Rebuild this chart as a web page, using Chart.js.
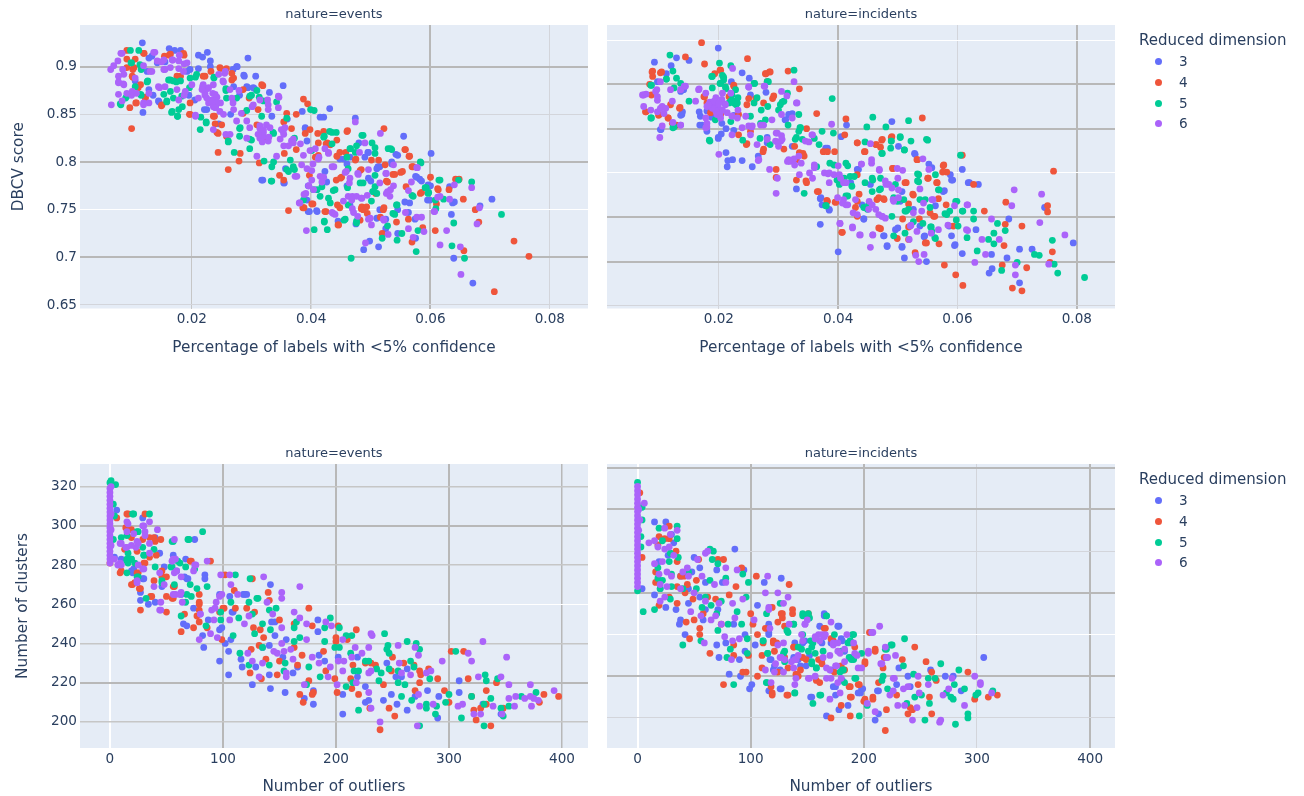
<!DOCTYPE html>
<html>
<head>
<meta charset="utf-8">
<title>DBCV and clusters</title>
<script src="https://cdn.jsdelivr.net/npm/chart.js@4"></script>
<style>
  body { margin: 0; background: #fff; width: 1304px; height: 796px; overflow: hidden; position: relative; font-family: "DejaVu Sans", sans-serif; color: #2a3f5f; }
  canvas { position: absolute; }
  .legend { position: absolute; left: 1139px; }
  .legend .head { font-size: 15px; line-height: 21px; }
  .legend .row { position: relative; height: 20.8px; line-height: 20.8px; font-size: 13.6px; padding-left: 40px; }
  .legend .dot { position: absolute; left: 15.5px; top: 7px; width: 7px; height: 7px; border-radius: 50%; }
</style>
</head>
<body>
<canvas id="events-pct" width="600" height="370" style="left:0;top:0"></canvas>
<canvas id="incidents-pct" width="704" height="370" style="left:600px;top:0"></canvas>
<canvas id="events-out" width="600" height="357" style="left:0;top:439px"></canvas>
<canvas id="incidents-out" width="704" height="357" style="left:600px;top:439px"></canvas>
<div class="legend" id="legend-top" style="top:30px"></div>
<div class="legend" id="legend-bottom" style="top:469px"></div>
<script>
// legend
const dimensions = ['3', '4', '5', '6'];
const dimColors = ['#636efa', '#EF553B', '#00cc96', '#ab63fa'];

// tick labels
const pctTicks = [0.02, 0.04, 0.06, 0.08];
const dbcvTicks = [0.65, 0.7, 0.75, 0.8, 0.85, 0.9];
const dbcvTicksRight = [0.6, 0.65, 0.7, 0.75, 0.8, 0.85, 0.9];
const outlierTicks = [0, 100, 200, 300, 400];
const clusterTicks = [200, 220, 240, 260, 280, 300, 320];

// events: [pct of labels <5% confidence, DBCV]
const eventsPct3 = [[.0117,.925],[.0162,.919],[.0171,.917],[.0181,.917],[.0211,.912],[.0218,.91],[.0226,.915],[.0231,.906],[.0294,.909],[.0276,.9],[.0211,.898],[.0288,.89],[.0307,.89],[.0294,.878],[.0305,.877],[.033,.873],[.0353,.88],[.0431,.856],[.0421,.847],[.0474,.846],[.0555,.827],[.0601,.809],[.0703,.761],[.0671,.673],[.0639,.699],[.0488,.708],[.0513,.711],[.0317,.781],[.0354,.778],[.0118,.852],[.0145,.863],[.0135,.87],[.0105,.885],[.0125,.895],[.0155,.905],[.0195,.87],[.0205,.865],[.0225,.855],[.0245,.84],[.0265,.85],[.028,.87],[.036,.845],[.0385,.853],[.039,.835],[.041,.805],[.0395,.775],[.041,.748],[.0395,.748],[.0423,.79],[.0445,.738],[.046,.775],[.0465,.805],[.048,.82],[.0495,.81],[.05,.78],[.0515,.75],[.0515,.795],[.0535,.8],[.0545,.807],[.0545,.75],[.0525,.74],[.0565,.757],[.0575,.785],[.0585,.78],[.06,.775],[.0595,.76],[.0637,.757],[.0635,.745],[.0632,.774],[.0683,.754],[.0575,.72],[.0545,.725],[.0525,.73],[.0498,.717],[.0475,.735],[.0465,.755],
    [.0231,.9],[.0275,.9],[.0269,.897],[.0287,.891],[.0292,.879],[.0303,.878],[.027,.879],[.0128,.876],[.0144,.864],[.0221,.855],[.0197,.897],[.0192,.895],[.0334,.848],[.0133,.911],[.0128,.909],[.0142,.904],
    [.0454,.803],[.046,.798],[.049,.805],[.0496,.81],[.0448,.803],[.0426,.779],[.0355,.778],[.0319,.781],[.0535,.798],[.0512,.795],[.051,.793],[.0496,.783],[.0542,.808],[.0582,.782],[.0577,.784],[.0596,.776],[.0599,.76],[.0557,.758],[.0397,.748],[.0409,.749],[.064,.758],[.051,.741],[.0574,.74],[.0563,.747],[.0393,.76],[.039,.836],[.0393,.822],[.0415,.847],[.037,.793],[.0357,.793]];
const eventsPct4 = [[.0099,.835],[.0096,.857],[.0091,.917],[.012,.914],[.0162,.912],[.0187,.912],[.0258,.898],[.0267,.893],[.0319,.88],[.0387,.866],[.0394,.861],[.0375,.85],[.0522,.835],[.0461,.833],[.0557,.813],[.0564,.806],[.0569,.795],[.06,.784],[.0642,.782],[.0648,.782],[.0612,.772],[.0583,.767],[.0655,.761],[.0675,.75],[.0681,.737],[.0608,.728],[.0587,.731],[.074,.717],[.0765,.701],[.0707,.664],[.0656,.707],[.0569,.716],[.0519,.725],[.0543,.737],[.0445,.734],[.0423,.748],[.0403,.756],[.0388,.752],[.0362,.749],[.0354,.781],[.0347,.786],[.0313,.799],[.0279,.801],[.0261,.792],[.0281,.809],[.0244,.81],[.0244,.83],[.0238,.848],[.0197,.85],[.0149,.859],[.0106,.862],[.0101,.897],[.0101,.889],[.011,.878],[.0122,.868],[.0181,.89],[.0219,.89],[.0232,.895],[.0248,.898],[.0267,.886],[.0296,.867],[.0319,.823],[.0354,.842],[.0367,.835],[.0411,.83],[.0427,.82],[.0443,.806],[.0458,.81],[.0475,.803],[.0484,.792],[.0449,.783],[.0508,.767],[.0526,.78],[.0537,.787],[.055,.789],[.0484,.751],[.0494,.746],[.0516,.742],[.0521,.75],
    [.0091,.908],[.0105,.908],[.0119,.914],[.0154,.911],[.0164,.913],[.0186,.914],[.0091,.899],[.0103,.899],[.01,.89],[.0114,.881],[.0122,.867],[.0107,.862],[.0175,.89],[.015,.86],[.0222,.89],[.0247,.899],[.027,.888],[.0197,.862],[.0196,.85],[.0236,.848],[.0239,.84],[.025,.839],[.0242,.831],[.0258,.827],[.0286,.876],[.0317,.881],[.0311,.855],[.0286,.851],[.0359,.851],[.0309,.839],
    [.046,.832],[.039,.83],[.0398,.834],[.0421,.832],[.0443,.823],[.0425,.819],[.0432,.818],[.0412,.82],[.0375,.813],[.0355,.809],[.0412,.807],[.0407,.805],[.0448,.81],[.0474,.802],[.0501,.802],[.0513,.802],[.0524,.797],[.0482,.791],[.054,.787],[.0553,.79],[.0571,.795],[.0451,.784],[.0442,.781],[.0397,.786],[.0528,.779],[.0558,.813],[.0565,.806],[.0559,.774],[.0585,.768],[.0613,.771],[.0631,.771],[.061,.756],[.0386,.752],[.0401,.756],[.0425,.748],[.0444,.755],[.0448,.752],[.0485,.753],[.0487,.75],[.0493,.753],[.0522,.752],[.0563,.74],[.0446,.734],[.0482,.739]];
const eventsPct5 = [[.0097,.917],[.0111,.917],[.0081,.86],[.0166,.852],[.0176,.848],[.0214,.834],[.0224,.841],[.0261,.821],[.0271,.81],[.0297,.814],[.0321,.801],[.0333,.78],[.0359,.792],[.0372,.792],[.0405,.729],[.0427,.729],[.0422,.737],[.0455,.739],[.0476,.736],[.0467,.699],[.0519,.72],[.0544,.718],[.0576,.706],[.0579,.728],[.0552,.725],[.0528,.733],[.0636,.712],[.0657,.699],[.0639,.736],[.0609,.751],[.0622,.761],[.0569,.765],[.0597,.768],[.0614,.781],[.0647,.781],[.0669,.779],[.0719,.745],[.0583,.8],[.0591,.773],[.0533,.814],[.0502,.82],[.0487,.828],[.0466,.814],[.0442,.831],[.0431,.832],[.0422,.827],[.0399,.855],[.0405,.854],[.0342,.863],[.03,.87],[.0313,.868],[.0257,.875],[.0237,.888],[.0206,.889],[.0174,.884],[.0161,.886],[.0125,.884],[.0115,.897],[.0099,.904],[.0115,.87],[.0089,.867],[.0158,.863],[.0184,.858],[.028,.835],[.03,.823],[.0337,.83],[.0372,.825],[.0487,.778],[.0503,.769],[.0537,.746],[.0544,.755],[.0437,.77],[.041,.771],[.0387,.76],
    [.0098,.904],[.0113,.902],[.0126,.885],[.0105,.879],[.0091,.869],[.0114,.871],[.008,.861],[.0164,.886],[.0169,.885],[.0181,.885],[.0197,.888],[.0208,.892],[.0237,.889],[.0196,.878],[.0153,.871],[.0164,.874],[.0158,.864],[.0169,.867],[.0167,.853],[.0178,.855],[.0176,.848],[.0183,.869],[.0215,.847],[.0224,.842],[.0257,.877],[.0258,.867],[.0275,.867],[.0297,.869],[.0309,.875],[.032,.864],[.0359,.846],[.0317,.848],[.0281,.836],[.028,.827],[.0297,.824],[.0336,.831],[.0261,.822],[.0292,.854],
    [.0435,.831],[.0485,.828],[.0507,.815],[.0507,.809],[.0476,.817],[.0465,.814],[.0529,.814],[.0535,.813],[.0584,.799],[.046,.805],[.0474,.81],[.0435,.819],[.0421,.826],[.0401,.812],[.0365,.802],[.037,.795],[.0362,.79],[.0334,.795],[.0334,.78],[.0337,.8],[.0462,.793],[.044,.771],[.0461,.773],[.0507,.774],[.0504,.769],[.0507,.786],[.0482,.778],[.0418,.774],[.0404,.771],[.0415,.764],[.0429,.762],[.0432,.757],[.0462,.755],[.0501,.759],[.051,.767],[.0543,.755],[.054,.745],[.0571,.764],[.0593,.773],[.0596,.767],[.0616,.781],[.0608,.76],[.0422,.738],[.0457,.74],[.0476,.738]];
const eventsPct6 = [[.0064,.897],[.0069,.901],[.0083,.914],[.0065,.86],[.0138,.915],[.0179,.912],[.0474,.842],[.0516,.83],[.0578,.794],[.0669,.773],[.0682,.752],[.0678,.735],[.0651,.682],[.065,.711],[.0616,.713],[.0627,.728],[.0589,.727],[.0577,.742],[.0558,.747],[.0571,.721],[.0563,.73],[.0529,.724],[.0501,.734],[.0491,.715],[.0392,.728],[.0496,.74],[.0437,.746],[.038,.757],[.0391,.767],[.0396,.775],[.0376,.785],[.0342,.806],[.0309,.806],[.0257,.829],[.0236,.834],[.0206,.848],[.0084,.897],[.0077,.884],[.0085,.882],[.0099,.87],[.0119,.862],[.0107,.872],[.0133,.895],[.0149,.905],[.0155,.897],[.0168,.907],[.0187,.903],[.0178,.898],[.0146,.878],[.0155,.879],[.0187,.87],[.0178,.865],[.0218,.879],[.0227,.877],[.0234,.865],[.024,.858],[.0253,.884],[.0255,.893],[.0269,.862],[.0279,.875],[.0283,.851],[.0301,.858],[.0314,.835],[.032,.827],[.0327,.865],[.0346,.868],[.0353,.832],[.0367,.822],[.0387,.807],[.0403,.798],[.0413,.805],[.0429,.81],[.0438,.795],[.0415,.785],[.0459,.79],[.0481,.81],[.049,.82],[.0478,.788],[.0469,.764],[.0484,.762],[.0469,.751],[.0478,.743],[.0522,.739],[.0528,.769],[.0538,.797],[.0525,.788],[.0612,.763],[.064,.776],[.0606,.748],[.0235,.872],[.0228,.862],[.0242,.868],[.0222,.87],[.0248,.862],
    [.0076,.906],[.0081,.914],[.0136,.915],[.0086,.892],[.0077,.89],[.0077,.883],[.0086,.881],[.0077,.871],[.0091,.872],[.01,.874],[.0105,.888],[.0128,.862],[.0119,.86],[.0083,.864],[.0119,.901],[.013,.895],[.0142,.906],[.0153,.907],[.0167,.907],[.0178,.906],[.0192,.904],[.0153,.897],[.0164,.899],[.0186,.895],[.0144,.879],[.0128,.872],[.0175,.876],[.0189,.874],[.02,.881],[.0219,.881],[.0228,.878],[.0236,.881],[.0222,.872],[.0217,.876],[.0239,.871],[.0233,.864],[.0242,.862],[.0236,.858],[.0239,.857],[.0211,.867],[.0225,.867],[.0247,.853],[.0253,.85],[.0206,.849],[.0256,.895],[.0245,.892],[.0252,.885],[.0264,.876],[.0267,.867],[.027,.855],[.0275,.843],[.0292,.843],[.0303,.86],[.0314,.865],[.0328,.86],[.0328,.855],[.0345,.869],[.0345,.857],[.0314,.838],[.0325,.839],[.0331,.836],[.032,.831],[.0311,.829],[.0297,.836],[.035,.834],[.0356,.836],[.0348,.824],[.0264,.829],[.0292,.825],[.0314,.825],[.0328,.822],
    [.0398,.812],[.0407,.814],[.0423,.814],[.0429,.809],[.0412,.803],[.0384,.797],[.0393,.793],[.0401,.791],[.0373,.785],[.0401,.781],[.0421,.784],[.0418,.779],[.0396,.775],[.0404,.771],[.0435,.795],[.0457,.789],[.0465,.783],[.0479,.787],[.0496,.792],[.0526,.788],[.0464,.778],[.0515,.778],[.0538,.775],[.0533,.771],[.0526,.767],[.0532,.764],[.0568,.779],[.0563,.77],[.0577,.794],[.0616,.764],[.0632,.761],[.0607,.748],[.0388,.766],[.0381,.757],[.0454,.759],[.0462,.764],[.0476,.764],[.0485,.762],[.0468,.76],[.0494,.765],[.0471,.747],[.0435,.747],[.044,.745],[.0499,.741],[.0521,.74],[.0585,.742],[.037,.824],[.0354,.829],[.0354,.817],[.0362,.817],[.037,.82],[.0382,.819],[.032,.834],[.0329,.826],[.0318,.821]];

// incidents: [pct of labels <5% confidence, DBCV]
const incidentsPct3 = [[.0199,.891],[.0092,.875],[.012,.871],[.0129,.88],[.015,.877],[.0239,.863],[.0251,.857],[.0221,.853],[.0253,.838],[.0279,.841],[.0112,.862],[.0097,.853],[.0138,.816],[.0103,.799],[.0168,.804],[.0199,.789],[.0212,.773],[.0215,.764],[.0214,.757],[.0223,.765],[.0239,.764],[.0256,.757],[.0266,.769],[.0281,.784],[.0323,.817],[.0311,.81],[.0414,.804],[.0405,.791],[.049,.808],[.0501,.78],[.0529,.771],[.0552,.76],[.0588,.748],[.0608,.754],[.0592,.742],[.062,.739],[.0635,.737],[.0578,.73],[.033,.732],[.037,.721],[.0373,.714],[.0385,.708],[.037,.692],[.04,.661],[.0482,.667],[.0507,.666],[.0511,.654],[.0548,.65],[.0544,.678],[.0595,.668],[.0608,.659],[.0631,.686],[.0657,.658],[.0683,.654],[.0704,.664],[.0725,.664],[.0794,.671],[.0653,.637],[.0658,.642],[.0704,.626],[.0686,.698],[.0746,.711],[.0477,.679],[.0443,.698],[.0526,.709],[.0563,.713],[.0586,.69],[.0379,.778],[.0323,.78],[.0432,.754],[.018,.82],[.0188,.813],[.0205,.806],[.0225,.815],
    [.0167,.819],[.0169,.814],[.0172,.804],[.018,.797],[.0204,.794],[.0199,.79],[.0212,.8],[.0225,.798],[.0281,.79],[.0312,.81],[.0317,.816],[.0102,.799],[.0139,.819],[.0136,.815],[.0141,.844],[.0136,.842],
    [.0382,.778],[.0528,.772],[.0557,.756],[.059,.742],[.0618,.739],[.0576,.729],[.0434,.754],[.0421,.739],[.0454,.737],[.0507,.729],[.044,.714],[.0371,.722],[.0385,.709],[.0443,.698],[.0496,.686],[.05,.688],[.0476,.679],[.0482,.668],[.0507,.667],[.0545,.679],[.059,.679],[.0596,.669],[.0537,.69],[.0504,.718]];
const incidentsPct4 = [[.0171,.897],[.0144,.881],[.0176,.873],[.0248,.879],[.0089,.865],[.0089,.859],[.0104,.864],[.0084,.85],[.0077,.819],[.0099,.815],[.0115,.812],[.0129,.804],[.0135,.824],[.0193,.862],[.0202,.866],[.0279,.862],[.0285,.864],[.0316,.865],[.0335,.845],[.0176,.836],[.0225,.848],[.0262,.834],[.029,.834],[.0364,.817],[.0413,.811],[.0541,.812],[.0347,.8],[.0411,.793],[.0432,.784],[.0464,.782],[.0473,.787],[.0489,.79],[.0444,.774],[.0608,.77],[.0533,.765],[.0577,.759],[.0761,.752],[.0582,.751],[.0492,.755],[.0551,.744],[.0566,.739],[.0514,.739],[.0627,.737],[.0347,.739],[.0296,.745],[.0365,.729],[.0381,.719],[.0395,.717],[.0526,.725],[.0568,.721],[.0681,.717],[.0751,.713],[.0751,.706],[.0645,.707],[.0471,.687],[.0406,.683],[.0508,.698],[.056,.701],[.0708,.69],[.068,.692],[.0593,.69],[.0678,.668],[.0759,.661],[.0578,.646],[.0597,.635],[.0609,.623],[.0692,.62],[.0708,.617],[.0716,.643],[.0675,.646],[.0755,.649],[.0529,.66],[.0518,.689],[.0499,.676],[.0548,.671],[.0569,.67],[.0247,.783],[.0274,.774],[.0296,.754],[.033,.765],[.0341,.772],[.0375,.774],[.0394,.774],[.0432,.718],[.0465,.72],[.0477,.72],
    [.0088,.864],[.0102,.863],[.0087,.838],[.0078,.819],[.01,.816],[.0115,.812],[.0122,.806],[.0119,.827],[.0134,.823],[.0175,.836],[.018,.829],[.0186,.818],[.0203,.866],[.0225,.849],[.0286,.864],[.0278,.862],[.0281,.853],[.0292,.837],[.0247,.827],[.0275,.829],[.0253,.797],[.0233,.793],[.0246,.782],[.0275,.777],[.0309,.777],[.0217,.836],[.025,.834],[.0197,.821],[.0203,.816],[.0233,.816],
    [.0432,.784],[.0463,.782],[.0471,.779],[.0474,.788],[.049,.791],[.0445,.774],[.0382,.774],[.0327,.78],[.0335,.773],[.0343,.769],[.0346,.741],[.033,.742],[.0367,.729],[.0382,.718],[.0396,.717],[.0435,.726],[.0468,.722],[.0476,.721],[.0432,.748],[.0429,.711],[.0432,.701],[.0468,.688],[.0525,.726],[.0518,.715],[.0581,.714],[.0532,.765],[.0491,.755],[.0512,.739],[.055,.744],[.0565,.739],[.0576,.758],[.0575,.751],[.0554,.705],[.0562,.701],[.0536,.698],[.0546,.671],[.0407,.683],[.0518,.675]];
const incidentsPct5 = [[.0118,.883],[.0123,.865],[.0112,.856],[.0129,.857],[.0086,.849],[.0086,.812],[.0123,.801],[.0201,.874],[.022,.871],[.0189,.859],[.0208,.858],[.0202,.851],[.0229,.827],[.0217,.829],[.0225,.831],[.0185,.786],[.024,.787],[.0259,.851],[.0281,.853],[.0326,.866],[.039,.834],[.0458,.813],[.0448,.802],[.048,.802],[.0518,.809],[.0392,.795],[.0373,.797],[.0336,.801],[.033,.79],[.036,.789],[.0368,.782],[.0489,.786],[.0504,.79],[.0522,.786],[.055,.787],[.0473,.772],[.0511,.776],[.0605,.77],[.0413,.761],[.0386,.761],[.0364,.757],[.0533,.749],[.0535,.74],[.0568,.731],[.042,.746],[.0398,.742],[.0458,.742],[.0469,.731],[.0343,.727],[.0379,.713],[.0413,.724],[.0451,.714],[.0495,.72],[.0537,.72],[.0599,.718],[.0609,.707],[.0627,.707],[.0627,.698],[.0514,.707],[.0582,.703],[.0556,.689],[.0601,.69],[.0542,.693],[.0667,.693],[.068,.685],[.0661,.682],[.0616,.677],[.0563,.676],[.0652,.675],[.0633,.662],[.0661,.67],[.0759,.674],[.0729,.658],[.0737,.657],[.0762,.647],[.0768,.637],[.0813,.632],[.07,.649],[.0674,.64],[.0212,.845],[.0222,.838],[.0232,.835],[.0282,.825],[.0306,.83],[.0315,.84],
    [.0087,.849],[.0112,.856],[.0136,.851],[.0125,.846],[.0087,.812],[.015,.831],[.0125,.802],[.0188,.859],[.0206,.86],[.0208,.855],[.0211,.847],[.0203,.851],[.0189,.846],[.0228,.844],[.0225,.829],[.0231,.829],[.022,.831],[.026,.851],[.0283,.853],[.0309,.831],[.0303,.827],[.03,.821],[.0278,.81],[.027,.806],[.0264,.835],[.0259,.829],[.0253,.814],[.0271,.821],[.0184,.787],[.0269,.789],[.0316,.804],[.0334,.816],[.0337,.801],[.0334,.797],[.0328,.788],[.034,.788],[.0286,.782],[.022,.808],[.0194,.81],
    [.0445,.785],[.0489,.786],[.0504,.791],[.0548,.788],[.0511,.776],[.0474,.772],[.0488,.778],[.0393,.759],[.0416,.758],[.0427,.746],[.041,.744],[.0423,.735],[.0416,.724],[.0402,.737],[.0445,.739],[.0457,.744],[.0471,.744],[.0496,.737],[.0471,.732],[.0457,.729],[.0535,.748],[.0533,.741],[.0563,.748],[.0569,.731],[.038,.713],[.0443,.711],[.0449,.709],[.0493,.722],[.0499,.718],[.051,.72],[.0518,.709],[.0512,.707],[.049,.701],[.0546,.72],[.0554,.711],[.0579,.704],[.0587,.707],[.0597,.718],[.0608,.707],[.0598,.697],[.0526,.695],[.0555,.689],[.0557,.684],[.0562,.677],[.0512,.682],[.0493,.679]];
const incidentsPct6 = [[.0074,.838],[.0074,.825],[.0086,.821],[.0096,.844],[.0105,.825],[.0097,.832],[.0108,.817],[.0105,.803],[.0101,.79],[.0123,.807],[.0136,.804],[.0142,.848],[.0166,.844],[.0161,.831],[.018,.825],[.0191,.829],[.0199,.825],[.0202,.817],[.018,.802],[.0223,.868],[.025,.847],[.0276,.848],[.0326,.853],[.0305,.842],[.033,.829],[.0232,.821],[.0255,.802],[.027,.804],[.0296,.795],[.0304,.786],[.02,.771],[.0266,.764],[.0285,.754],[.0298,.744],[.0296,.727],[.0389,.805],[.0357,.793],[.0315,.763],[.0338,.761],[.036,.759],[.0383,.749],[.0409,.739],[.0454,.783],[.0456,.765],[.0439,.76],[.0469,.754],[.0499,.755],[.0542,.766],[.0552,.754],[.048,.737],[.0537,.732],[.0409,.72],[.0413,.714],[.0432,.703],[.0451,.709],[.0473,.701],[.0492,.72],[.0526,.705],[.0559,.72],[.0595,.713],[.0617,.714],[.0695,.731],[.0741,.726],[.0691,.713],[.0738,.694],[.0657,.698],[.0617,.685],[.0403,.693],[.0424,.688],[.0436,.68],[.0458,.68],[.0454,.666],[.0522,.691],[.0519,.675],[.0556,.682],[.0641,.675],[.067,.675],[.0647,.658],[.0629,.649],[.053,.657],[.0544,.658],[.0535,.65],[.0697,.635],[.0697,.646],[.0753,.647],[.078,.68],[.0185,.83],[.0195,.835],[.0205,.833],[.0195,.82],[.021,.828],[.0298,.785],[.0305,.792],
    [.0072,.838],[.0078,.839],[.0097,.819],[.0102,.823],[.0111,.823],[.0122,.831],[.0097,.836],[.0094,.842],[.0102,.853],[.0119,.844],[.0136,.844],[.0144,.848],[.0167,.845],[.0178,.84],[.0192,.831],[.02,.829],[.0206,.821],[.0189,.823],[.0183,.827],[.0211,.827],[.0206,.84],[.022,.84],[.0197,.816],[.0203,.812],[.0214,.818],[.0222,.814],[.0231,.812],[.0178,.812],[.018,.806],[.0178,.801],[.0245,.814],[.025,.803],[.0239,.801],[.0256,.803],[.0253,.793],[.0264,.782],[.0222,.793],[.0275,.804],[.0289,.81],[.0314,.837],[.0305,.816],[.0331,.829],[.0323,.812],[.0298,.795],[.0306,.788],[.0295,.786],[.0281,.788],[.03,.78],[.0326,.766],[.0334,.769],[.0317,.765],[.0345,.786],[.0356,.793],[.0351,.785],[.0267,.765],[.0136,.804],[.025,.847],[.0277,.848],
    [.0319,.763],[.0327,.759],[.0335,.748],[.0352,.75],[.036,.756],[.0357,.744],[.0377,.75],[.0385,.75],[.0393,.748],[.0385,.739],[.0402,.748],[.04,.758],[.0404,.744],[.0413,.739],[.0399,.722],[.0407,.716],[.0416,.714],[.0429,.72],[.0425,.705],[.0439,.76],[.0456,.761],[.0469,.753],[.0508,.753],[.05,.744],[.0479,.741],[.0485,.737],[.049,.733],[.0501,.731],[.0452,.718],[.0457,.714],[.0463,.709],[.0468,.703],[.0474,.701],[.0479,.699],[.0493,.718],[.0501,.722],[.0543,.716],[.0557,.72],[.054,.707],[.0616,.714],[.0568,.686],[.0584,.691],[.0615,.686],[.0521,.69],[.0532,.684],[.0403,.693],[.0424,.689],[.0437,.68],[.0458,.68]];

// events: [outliers, clusters]
const eventsOut3 = [[29,304],[6,308],[4,284],[18,283],[19,277],[29,273],[27,262],[34,260],[40,261],[48,279],[56,285],[67,283],[75,293],[68,273],[84,275],[84,273],[74,258],[65,250],[68,249],[82,244],[83,238],[87,252],[97,247],[99,248],[102,240],[105,236],[97,231],[105,224],[107,242],[108,256],[106,264],[119,265],[117,228],[116,232],[126,219],[129,228],[135,238],[141,224],[141,239],[142,270],[143,251],[146,251],[146,244],[142,217],[155,215],[153,233],[156,242],[162,225],[166,228],[172,212],[180,216],[180,209],[184,246],[184,252],[185,234],[190,231],[202,233],[206,214],[206,204],[219,233],[219,223],[226,218],[226,210],[229,211],[242,211],[245,230],[249,214],[254,209],[253,223],[258,223],[263,227],[263,206],[270,213],[281,216],[290,202],[291,213],[309,221],[309,215],[330,209],[346,204],
    [10,283],[21,278],[20,276],[27,266],[44,286],[40,294],[30,273],[46,269],[59,277],[66,274],[69,273],[97,265],[118,265],[121,265],[109,256],[63,265]];
const eventsOut4 = [[0,281],[1,305],[6,304],[16,306],[31,306],[14,299],[19,298],[19,294],[29,293],[39,294],[45,293],[35,284],[41,285],[13,288],[24,287],[30,281],[9,276],[19,270],[22,271],[26,268],[24,276],[39,272],[46,274],[50,274],[36,264],[50,264],[55,263],[27,257],[50,256],[57,269],[63,246],[66,255],[74,248],[77,254],[79,251],[79,265],[79,261],[71,282],[89,282],[86,248],[99,242],[97,256],[102,275],[101,258],[110,267],[111,258],[121,258],[126,273],[128,256],[127,248],[133,247],[125,237],[124,225],[132,239],[134,222],[136,243],[140,266],[141,262],[138,232],[150,231],[148,224],[150,252],[163,250],[163,238],[166,229],[170,234],[168,214],[171,210],[176,258],[176,221],[180,215],[179,214],[179,249],[189,236],[191,226],[202,249],[200,243],[200,241],[199,222],[201,215],[210,242],[218,247],[213,222],[214,217],[215,229],[220,214],[226,230],[231,230],[235,229],[230,207],[242,219],[239,196],[247,207],[250,233],[249,226],[252,203],[260,230],[269,229],[270,216],[274,226],[275,224],[274,220],[282,227],[290,222],[296,216],[300,210],[302,236],[313,236],[317,222],[320,213],[322,206],[324,201],[328,207],[333,209],[333,216],[337,198],[342,220],[380,210],[384,214],[397,213],[348,207],
    [15,306],[35,294],[40,292],[31,281],[25,276],[10,277],[20,270],[27,268],[47,274],[46,277],[37,264],[56,263],[56,269],[72,282],[79,257],[79,260],[100,258]];
const eventsOut5 = [[0,322],[1,323],[5,321],[3,311],[4,305],[3,293],[20,306],[35,306],[10,294],[15,295],[24,297],[29,289],[30,285],[39,288],[40,279],[15,276],[15,283],[19,283],[24,274],[32,263],[46,272],[55,292],[69,293],[82,297],[54,279],[62,281],[67,279],[75,278],[77,268],[86,269],[71,270],[68,265],[57,270],[63,254],[67,261],[85,249],[98,256],[98,252],[111,275],[107,261],[124,273],[123,261],[130,263],[114,253],[126,255],[128,245],[109,244],[115,235],[123,229],[135,250],[135,238],[141,229],[141,257],[147,258],[142,247],[154,226],[155,230],[163,248],[165,251],[168,243],[163,241],[176,228],[174,219],[186,223],[190,241],[190,248],[195,253],[203,248],[199,238],[203,238],[209,244],[214,244],[213,235],[215,220],[209,218],[216,226],[220,226],[220,206],[226,231],[229,231],[236,227],[238,221],[243,245],[246,239],[245,237],[247,235],[247,227],[240,225],[255,226],[255,220],[263,241],[271,240],[274,237],[266,231],[269,228],[261,219],[258,213],[267,211],[274,198],[280,209],[280,207],[283,222],[289,208],[288,204],[297,210],[300,214],[306,236],[311,202],[320,213],[331,198],[332,224],[333,221],[331,209],[337,212],[343,222],[346,207],[348,203],[353,208],[364,213],[377,215],
    [21,306],[70,293],[56,292],[25,297],[16,286],[30,285],[15,282],[19,283],[25,274],[55,279],[60,282],[46,271],[72,264],[131,263],[16,281],[22,281]];
const eventsOut6 = [[0,281],[0,283],[0,285],[0,287],[0,289],[0,291],[0,293],[0,295],[0,297],[0,299],[0,301],[0,303],[0,305],[0,307],[0,309],[0,311],[0,313],[0,315],[0,317],[0,319],[1,320],[1,306],[1,298],[1,290],[9,281],[4,283],[16,301],[29,300],[35,302],[42,298],[31,297],[57,293],[14,289],[23,289],[35,291],[9,291],[25,280],[29,278],[44,276],[39,269],[48,270],[45,261],[45,257],[55,282],[58,283],[57,276],[63,274],[74,277],[75,280],[86,282],[57,265],[63,266],[64,261],[24,272],[98,275],[106,275],[107,270],[136,274],[168,269],[152,266],[152,263],[113,265],[99,265],[94,261],[90,257],[80,255],[79,242],[89,245],[95,243],[92,252],[106,252],[119,250],[123,254],[139,261],[144,255],[152,248],[163,256],[168,253],[174,250],[191,251],[196,249],[148,235],[145,236],[152,240],[154,236],[160,237],[162,232],[126,231],[135,230],[132,223],[122,235],[156,225],[156,223],[172,219],[174,242],[179,233],[185,230],[195,228],[193,223],[201,219],[202,231],[206,226],[207,231],[206,242],[217,238],[214,233],[223,235],[229,238],[231,245],[232,244],[218,220],[229,225],[231,226],[229,215],[231,207],[239,200],[255,239],[256,230],[258,225],[266,224],[270,238],[273,234],[273,214],[272,198],[274,208],[280,225],[284,226],[286,209],[294,231],[308,208],[312,209],[317,235],[320,231],[322,204],[326,223],[328,204],[330,241],[339,208],[346,223],[347,204],[351,233],[353,212],[353,219],[358,208],[359,213],[367,212],[372,219],[372,213],[373,208],[375,212],[379,211],[393,216],
    [15,302],[30,300],[15,297],[21,296],[15,289],[19,290],[24,292],[25,291],[31,295],[10,291],[35,286],[30,278],[24,271],[56,283],[55,282],[59,277],[76,280],[58,265],[62,265],[97,264],[93,258],[44,257],[7,280],[10,280],[56,265],[80,255]];

// incidents: [outliers, clusters]
const incidentsOut3 = [[15,294],[25,294],[4,262],[86,281],[50,277],[55,272],[70,271],[94,271],[127,267],[15,259],[25,253],[34,252],[45,255],[48,270],[32,284],[19,275],[38,247],[37,245],[42,240],[72,229],[81,221],[91,220],[78,236],[95,232],[106,254],[104,235],[101,216],[99,214],[116,213],[127,214],[120,223],[118,228],[116,240],[116,245],[112,265],[71,252],[153,210],[178,204],[167,201],[186,206],[210,199],[213,202],[199,214],[197,212],[175,215],[175,211],[165,249],[161,244],[178,244],[148,237],[181,237],[144,225],[149,225],[171,223],[181,218],[231,224],[229,216],[259,223],[241,215],[239,220],[272,220],[279,220],[286,213],[306,229],[213,213],[138,228],
    [116,241],[165,250],[177,244],[180,238],[146,236],[139,236],[117,228],[121,225],[126,223],[138,229],[142,228],[152,230],[163,236],[171,236],[183,232],[188,229],[189,236],[198,214],[195,212],[212,213],[173,215],[154,210],[126,214],
    [30,288],[27,278],[38,268],[20,262],[45,262],[60,265],[55,258],[75,265],[60,252],[85,245],[70,235],[95,240],[90,228],[58,247]];
const incidentsOut4 = [[28,292],[19,287],[24,286],[4,277],[2,308],[34,280],[16,270],[16,265],[19,254],[35,275],[35,263],[35,255],[49,257],[41,268],[54,276],[71,276],[76,276],[92,272],[105,268],[134,264],[87,263],[81,259],[69,257],[100,250],[128,250],[128,248],[137,252],[151,250],[124,246],[50,247],[43,246],[55,243],[55,240],[46,238],[74,245],[64,231],[85,230],[85,235],[98,230],[106,240],[111,236],[120,237],[138,234],[130,229],[149,228],[163,228],[93,222],[96,222],[76,216],[106,220],[110,224],[124,222],[142,220],[118,215],[119,212],[133,211],[165,243],[173,237],[205,241],[192,234],[210,233],[245,234],[218,229],[234,228],[201,227],[255,227],[217,224],[260,222],[264,218],[292,222],[248,216],[187,215],[171,200],[188,201],[180,206],[188,210],[201,209],[208,210],[220,204],[219,194],[239,202],[241,205],[260,202],[258,210],[298,209],[310,210],[318,211],[183,223],[195,216],[229,211],[243,204],[102,245],
    [119,253],[137,250],[127,250],[130,244],[113,243],[166,243],[171,238],[210,232],[201,226],[138,234],[121,232],[120,236],[123,236],[110,230],[133,224],[144,223],[140,221],[146,229],[160,228],[163,226],[180,225],[174,222],[158,218],[161,217],[188,215],[196,216],[213,217],[119,211],[132,211],[189,210],[200,208],[208,209],
    [28,286],[18,283],[38,268],[44,264],[52,266],[28,258],[42,260],[62,258],[58,250]];
const incidentsOut5 = [[0,313],[4,301],[4,295],[3,287],[3,282],[0,261],[5,251],[15,252],[19,291],[35,292],[35,286],[29,279],[36,277],[18,272],[30,269],[22,266],[29,257],[64,281],[67,280],[66,276],[71,274],[93,269],[78,267],[98,265],[64,266],[60,258],[57,253],[65,254],[74,256],[96,258],[88,251],[114,250],[126,255],[146,249],[151,248],[167,249],[138,245],[132,242],[71,242],[92,245],[56,237],[40,235],[82,233],[97,238],[111,237],[115,231],[130,232],[146,240],[174,240],[190,240],[188,237],[153,237],[97,231],[79,229],[85,216],[114,217],[139,212],[155,207],[162,211],[142,234],[154,226],[158,224],[181,223],[187,229],[193,219],[198,231],[203,206],[196,201],[217,220],[225,235],[220,233],[236,238],[235,225],[244,221],[238,207],[245,210],[251,211],[257,219],[263,219],[258,207],[254,199],[268,226],[273,212],[277,210],[279,209],[280,216],[284,223],[281,197],[289,214],[292,202],[292,200],[299,211],[301,212],[314,213],
    [146,250],[151,250],[167,249],[138,245],[133,241],[152,248],[111,237],[115,231],[129,231],[130,227],[145,233],[151,232],[155,236],[154,234],[157,231],[164,232],[191,240],[180,232],[186,236],[188,237],[189,228],[191,228],[154,227],[158,224],[182,223],[179,222],[192,219],[183,217],[224,235],[219,233],[216,218],[221,214],[114,217],[139,212],[161,211],
    [22,285],[28,275],[18,267],[20,262],[30,263],[45,270],[40,262],[52,262],[70,250],[80,245]];
const incidentsOut6 = [[0,263],[0,265],[0,267],[0,269],[0,271],[0,273],[0,275],[0,277],[0,279],[0,281],[0,283],[0,285],[0,287],[0,289],[0,291],[0,293],[0,295],[0,297],[0,299],[0,301],[0,303],[0,305],[0,307],[0,309],[0,311],[1,300],[2,295],[1,290],[6,303],[10,284],[15,285],[18,282],[24,281],[28,282],[24,291],[29,288],[35,290],[15,274],[19,269],[26,270],[20,264],[26,263],[20,256],[24,258],[44,272],[53,276],[60,279],[62,280],[57,268],[68,264],[78,272],[88,271],[78,265],[47,251],[56,249],[65,247],[69,249],[74,245],[84,255],[93,257],[86,248],[59,236],[77,239],[84,237],[90,238],[83,228],[103,247],[115,268],[113,260],[124,260],[133,258],[116,252],[117,243],[134,245],[148,245],[150,247],[171,246],[214,244],[208,241],[157,239],[161,237],[173,235],[192,231],[204,231],[126,229],[140,228],[122,226],[113,223],[138,224],[140,219],[151,219],[157,220],[167,219],[175,225],[183,227],[195,224],[221,229],[228,230],[215,226],[227,219],[118,217],[170,209],[203,207],[210,203],[223,211],[226,213],[230,206],[235,214],[236,206],[239,215],[247,205],[243,199],[248,220],[249,212],[257,216],[267,198],[268,199],[270,211],[275,214],[278,219],[289,206],[298,220],[303,217],[303,216],[313,212],[165,239],[177,232],
    [129,255],[116,253],[148,245],[207,241],[204,232],[219,234],[220,229],[216,226],[160,240],[163,240],[166,240],[157,238],[185,240],[173,236],[177,236],[146,237],[145,240],[129,236],[124,235],[127,229],[130,228],[121,222],[129,222],[136,227],[139,228],[142,230],[164,229],[170,230],[179,231],[183,233],[191,236],[194,230],[198,224],[176,225],[170,223],[167,224],[152,219],[171,219],[180,219],[177,217],[139,216],[179,212],[226,219],
    [32,278],[40,270],[45,268],[22,275],[30,268],[38,262],[50,260],[60,256],[72,255]];

const thick = '#b8b8b8', mid = '#c6c6c6', light = '#d3d5db', white = '#ffffff';

// fills the plot area, plotly style
const plotBg = {
    id: 'plotBg',
    beforeDraw(chart) {
        const a = chart.chartArea;
        chart.ctx.save();
        chart.ctx.fillStyle = '#E5ECF6';
        chart.ctx.fillRect(a.left, a.top, a.right - a.left, a.bottom - a.top);
        chart.ctx.restore();
    }
};

function toPoints(rows) {
    return rows.map(r => ({ x: r[0], y: r[1] }));
}

function makePanel(id, rows, o) {
    const fontFamily = '"DejaVu Sans", sans-serif';
    new Chart(document.getElementById(id), {
        type: 'scatter',
        data: {
            datasets: rows.map((r, i) => ({
                label: dimensions[i],
                data: toPoints(r),
                backgroundColor: dimColors[i],
                borderWidth: 0,
                pointRadius: 3.4,
                order: rows.length - i
            }))
        },
        plugins: [plotBg],
        options: {
            responsive: false,
            animation: false,
            layout: { padding: { left: 0, right: o.right, top: 0, bottom: 0 } },
            plugins: {
                legend: { display: false },
                tooltip: { enabled: false },
                title: {
                    display: true,
                    text: o.title,
                    fullSize: false,
                    color: '#2a3f5f',
                    font: { family: fontFamily, size: 13, weight: 'normal' },
                    padding: { top: 7.2, bottom: 2.2 }
                }
            },
            scales: {
                x: {
                    type: 'linear',
                    min: o.xMin,
                    max: o.xMax,
                    afterBuildTicks: s => { s.ticks = o.xTicks.map(v => ({ value: v })); },
                    afterFit: s => { s.height = o.xHeight; },
                    border: { display: false },
                    grid: { color: o.xGrid.map(g => g[0]), lineWidth: o.xGrid.map(g => g[1]), drawTicks: false },
                    ticks: {
                        color: '#2a3f5f', padding: 3, maxRotation: 0, autoSkip: false,
                        font: { family: fontFamily, size: 13.6 },
                        callback: v => String(v)
                    },
                    title: {
                        display: true, text: o.xTitle, color: '#2a3f5f',
                        font: { family: fontFamily, size: 15.3 },
                        padding: { top: 0, bottom: o.xTitlePad }
                    }
                },
                y: {
                    type: 'linear',
                    min: o.yMin,
                    max: o.yMax,
                    afterBuildTicks: s => { s.ticks = o.yTicks.map(v => ({ value: v })); },
                    afterFit: s => { s.width = o.yWidth; },
                    border: { display: false },
                    grid: { color: o.yGrid.map(g => g[0]), lineWidth: o.yGrid.map(g => g[1]), drawTicks: false },
                    ticks: {
                        display: !!o.yTitle, color: '#2a3f5f', padding: 3, autoSkip: false,
                        font: { family: fontFamily, size: 13.6 },
                        callback: v => String(v)
                    },
                    title: {
                        display: !!o.yTitle, text: o.yTitle, color: '#2a3f5f',
                        font: { family: fontFamily, size: 15.3 },
                        padding: { top: o.yTitlePad, bottom: 0 }
                    }
                }
            }
        }
    });
}

makePanel('events-pct', [eventsPct3, eventsPct4, eventsPct5, eventsPct6], {
    title: 'nature=events', right: 12, xHeight: 61.5, yWidth: 80,
    xMin: 0.00125, xMax: 0.0864, yMin: 0.6463, yMax: 0.9437,
    xTicks: pctTicks, yTicks: dbcvTicks,
    xTitle: 'Percentage of labels with <5% confidence', xTitlePad: 12.8,
    yTitle: 'DBCV score', yTitlePad: 9.8,
    xGrid: [[mid, 1], [mid, 1.5], [thick, 2], [light, 1]],
    yGrid: [[light, 1], [thick, 2], [white, 1], [thick, 2], [light, 1], [thick, 2]]
});
makePanel('incidents-pct', [incidentsPct3, incidentsPct4, incidentsPct5, incidentsPct6], {
    title: 'nature=incidents', right: 189, xHeight: 61.5, yWidth: 7,
    xMin: 0.00125, xMax: 0.0864, yMin: 0.597, yMax: 0.917,
    xTicks: pctTicks, yTicks: dbcvTicksRight,
    xTitle: 'Percentage of labels with <5% confidence', xTitlePad: 12.8,
    yTitle: '', yTitlePad: 0,
    xGrid: [[light, 1], [thick, 2], [light, 1], [thick, 2]],
    yGrid: [[light, 1], [thick, 2], [thick, 2], [white, 1], [thick, 2], [thick, 2], [white, 1]]
});
makePanel('events-out', [eventsOut3, eventsOut4, eventsOut5, eventsOut6], {
    title: 'nature=events', right: 12, xHeight: 48, yWidth: 80,
    xMin: -26.5, xMax: 423, yMin: 186.7, yMax: 331.5,
    xTicks: outlierTicks, yTicks: clusterTicks,
    xTitle: 'Number of outliers', xTitlePad: 0,
    yTitle: 'Number of clusters', yTitlePad: 13.8,
    xGrid: [[white, 2], [thick, 2], [thick, 2], [thick, 2], [thick, 1.5]],
    yGrid: [[mid, 1.5], [thick, 2], [mid, 1.5], [white, 1], [mid, 1.5], [thick, 2], [mid, 1.5]]
});
makePanel('incidents-out', [incidentsOut3, incidentsOut4, incidentsOut5, incidentsOut6], {
    title: 'nature=incidents', right: 189, xHeight: 48, yWidth: 7,
    xMin: -27, xMax: 422, yMin: 185.6, yMax: 321.8,
    xTicks: outlierTicks, yTicks: clusterTicks,
    xTitle: 'Number of outliers', xTitlePad: 0,
    yTitle: '', yTitlePad: 0,
    xGrid: [[white, 2], [thick, 2], [thick, 2], [light, 1], [thick, 2]],
    yGrid: [[light, 1], [thick, 2], [white, 1], [thick, 2], [light, 1], [thick, 2], [thick, 2]]
});

// html legends next to the right hand panels
function buildLegend(id) {
    const box = document.getElementById(id);
    let html = '<div class="head">Reduced dimension</div>';
    dimensions.forEach((d, i) => {
        html += '<div class="row"><span class="dot" style="background:' + dimColors[i] + '"></span>' + d + '</div>';
    });
    box.innerHTML = html;
}
buildLegend('legend-top');
buildLegend('legend-bottom');
</script>
</body>
</html>
